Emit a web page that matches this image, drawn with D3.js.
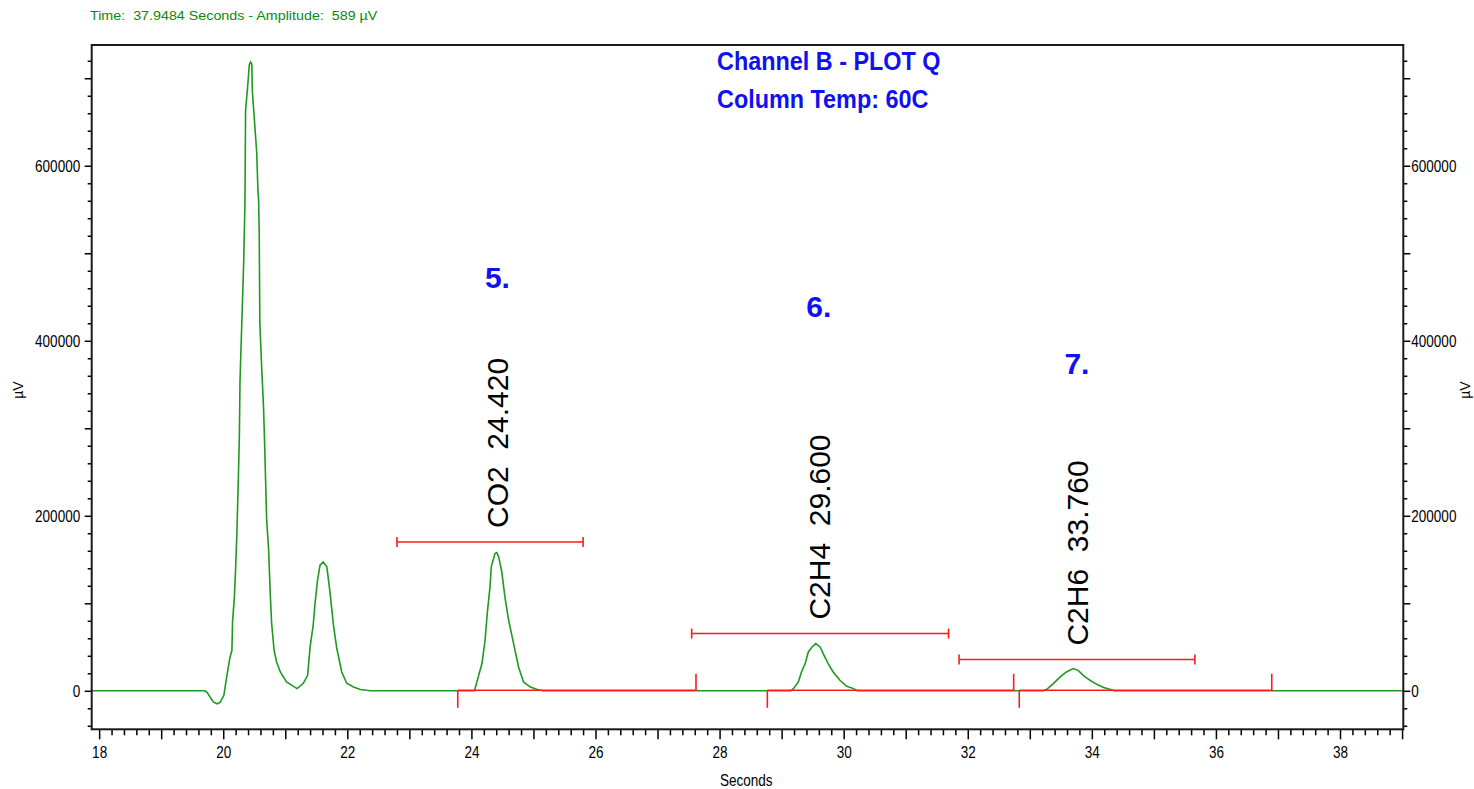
<!DOCTYPE html>
<html>
<head>
<meta charset="utf-8">
<script src="https://cdn.jsdelivr.net/npm/d3@7"></script>
<style>
  body { margin: 0; background: #fff; }
  svg { display: block; }
  text { font-family: "Liberation Sans", Arial, sans-serif; }
  .tick text { font-size: 16.5px; fill: #000; }
  .tick line { stroke: #000; stroke-width: 1.5; }
</style>
</head>
<body>
<svg id="chart" width="1474" height="789"></svg>
<script>
// chromatogram trace, [seconds, µV]
const trace = [
  [17.88, 0], [19.70, 0], [19.74, -1700], [19.79, -7400], [19.84, -12800], [19.90, -14900],
  [19.95, -13200], [20.01, -5100], [20.06, 17700], [20.11, 38700], [20.14, 46300], [20.15, 78700],
  [20.18, 107300], [20.20, 140100], [20.22, 180100], [20.24, 233000], [20.26, 290200], [20.27, 353100],
  [20.30, 421700], [20.33, 490300], [20.35, 557500], [20.36, 663000], [20.40, 696200], [20.42, 715300],
  [20.44, 718700], [20.46, 716400], [20.47, 684700], [20.50, 654700], [20.54, 614600], [20.56, 570400],
  [20.57, 560900], [20.58, 523200], [20.59, 420200], [20.62, 368800], [20.65, 323000], [20.67, 275000],
  [20.70, 195000], [20.73, 163000], [20.76, 107300], [20.78, 77200], [20.82, 46300], [20.86, 32900],
  [20.92, 21500], [21.02, 10100], [21.19, 2500], [21.29, 8600], [21.36, 17700], [21.40, 50100],
  [21.45, 74900], [21.48, 100100], [21.52, 126400], [21.56, 143500], [21.61, 147300], [21.67, 141600],
  [21.72, 113000], [21.78, 73000], [21.83, 48600], [21.91, 21500], [21.99, 8600], [22.10, 4300],
  [22.21, 1400], [22.37, 0],
  [24.05, 0], [24.11, 15800], [24.17, 31100], [24.22, 57700], [24.26, 92000], [24.30, 118700],
  [24.32, 141600], [24.38, 156900], [24.41, 158000], [24.44, 153000], [24.49, 135800], [24.54, 107300],
  [24.60, 80600], [24.68, 54000], [24.76, 27200], [24.84, 10100], [24.95, 4300], [25.05, 1700], [25.15, 0],
  [29.15, 0], [29.19, 2500], [29.27, 10100], [29.32, 21500], [29.38, 31100], [29.43, 44400],
  [29.49, 50100], [29.55, 54000], [29.62, 50100], [29.67, 42500], [29.75, 31100], [29.83, 21500],
  [29.94, 12000], [30.05, 5100], [30.16, 2500], [30.22, 0],
  [33.22, 0], [33.27, 1400], [33.38, 8200], [33.49, 15800], [33.59, 21500], [33.70, 25400],
  [33.78, 23400], [33.86, 17700], [33.97, 12000], [34.08, 7400], [34.19, 3700], [34.30, 1400], [34.36, 0],
  [39.02, 0]
];

// identified peaks
const peakNames = ["CO2", "C2H4", "C2H6"];
const peakTimes = [24.420, 29.600, 33.760];
const peakNumbers = ["5.", "6.", "7."];
const peakNumberAmp = [460300, 427000, 362000];

// integration baseline (start / end, seconds)
const baseStart = [23.78, 28.77, 32.83];
const baseEnd = [27.62, 32.74, 36.90];

// peak windows
const winStart = [22.80, 27.55, 31.86];
const winEnd = [25.80, 31.69, 35.66];
const winLevel = [170000, 65400, 35700];

const xDomain = [17.88, 39.02];
const yDomain = [-44000, 738000];

const svg = d3.select("#chart");
const plotL = 91.7, plotR = 1403.3, plotT = 45, plotB = 729.3;
const narrow = 0.82; // the plot software uses a narrow face

var x = d3.scaleLinear().domain(xDomain).range([plotL, plotR]);
var y = d3.scaleLinear().domain(yDomain).range([plotB, plotT]);

// status line
svg.append("text")
  .attr("transform", "translate(90,20) scale(1.1,1)")
  .style("font-size", "13px")
  .style("white-space", "pre")
  .attr("fill", "#0a8a0a")
  .text("Time:  37.9484 Seconds - Amplitude:  589 µV");

// bottom axis
var xTicks = d3.range(90, 196).map(function(i) { return i / 5; });
var xAxis = svg.append("g")
  .attr("transform", "translate(0," + plotB + ")")
  .call(d3.axisBottom(x).tickValues(xTicks).tickSizeOuter(0)
    .tickFormat(function(d) { return Math.round(d * 5) % 10 === 0 ? d3.format("d")(d) : ""; }));
xAxis.select(".domain").remove();
xAxis.selectAll(".tick line").attr("y2", function(d) { return Math.round(d * 5) % 5 === 0 ? 10 : 6; });
xAxis.selectAll(".tick text").attr("y", 29).attr("dy", 0)
  .attr("transform", "scale(" + narrow + ",1)");

// left / right axes
var yTicks = d3.range(-2, 37).map(function(i) { return i * 20000; });
var yFmt = function(d) { return d % 200000 === 0 ? String(d) : ""; };

var yLeft = svg.append("g")
  .attr("transform", "translate(" + plotL + ",0)")
  .call(d3.axisLeft(y).tickValues(yTicks).tickFormat(yFmt).tickSizeOuter(0));
yLeft.select(".domain").remove();
yLeft.selectAll(".tick line").attr("x2", function(d) { return d % 100000 === 0 ? -7 : -4; });
yLeft.selectAll(".tick text").attr("x", -11.5 / narrow).attr("dy", "0.36em")
  .attr("transform", "scale(" + narrow + ",1)");

var yRight = svg.append("g")
  .attr("transform", "translate(" + plotR + ",0)")
  .call(d3.axisRight(y).tickValues(yTicks).tickFormat(yFmt).tickSizeOuter(0));
yRight.select(".domain").remove();
yRight.selectAll(".tick line").attr("x2", function(d) { return d % 100000 === 0 ? 7 : 4; });
yRight.selectAll(".tick text").attr("x", 8 / narrow).attr("dy", "0.36em")
  .attr("transform", "scale(" + narrow + ",1)");

// axis titles
svg.append("text")
  .attr("transform", "translate(18,390) rotate(-90)")
  .attr("text-anchor", "middle").attr("dy", "0.35em")
  .style("font-size", "14px")
  .text("µV");
svg.append("text")
  .attr("transform", "translate(1465,390) rotate(-90)")
  .attr("text-anchor", "middle").attr("dy", "0.35em")
  .style("font-size", "14px")
  .text("µV");
svg.append("text")
  .attr("transform", "translate(720,786) scale(" + narrow + ",1)")
  .style("font-size", "16.5px")
  .text("Seconds");

// trace
var line = d3.line()
  .x(function(d) { return x(d[0]); })
  .y(function(d) { return y(d[1]); });

svg.append("path")
  .datum(trace)
  .attr("fill", "none")
  .attr("stroke", "#1f9a1f")
  .attr("stroke-width", 1.6)
  .attr("d", line);

// baselines with start / end markers
var red = "#ff1a1a";
var base = svg.append("g").attr("stroke", red).attr("stroke-width", 1.6);
baseStart.forEach(function(s, i) {
  var e = baseEnd[i];
  base.append("line")
    .attr("x1", x(s)).attr("x2", x(e))
    .attr("y1", y(0) - 0.5).attr("y2", y(0) - 0.5);
  base.append("line")
    .attr("x1", x(s)).attr("x2", x(s))
    .attr("y1", y(0)).attr("y2", y(0) + 17);
  base.append("line")
    .attr("x1", x(e)).attr("x2", x(e))
    .attr("y1", y(0)).attr("y2", y(0) - 17);
});

// peak windows
var win = svg.append("g").attr("stroke", red).attr("stroke-width", 1.6);
winStart.forEach(function(s, i) {
  var yy = y(winLevel[i]);
  win.append("line").attr("x1", x(s)).attr("x2", x(winEnd[i])).attr("y1", yy).attr("y2", yy);
  win.append("line").attr("x1", x(s)).attr("x2", x(s)).attr("y1", yy - 5).attr("y2", yy + 5);
  win.append("line").attr("x1", x(winEnd[i])).attr("x2", x(winEnd[i])).attr("y1", yy - 5).attr("y2", yy + 5);
});

// peak labels
peakNames.forEach(function(name, i) {
  svg.append("text")
    .attr("transform", "translate(" + x(peakTimes[i]) + "," + (y(winLevel[i]) - 14) + ") rotate(-90)")
    .attr("dy", "0.36em")
    .style("font-size", "30px")
    .style("white-space", "pre")
    .attr("fill", "#000")
    .text(name + "  " + d3.format(".3f")(peakTimes[i]));

  svg.append("text")
    .attr("x", x(peakTimes[i]))
    .attr("y", y(peakNumberAmp[i]))
    .attr("text-anchor", "middle")
    .style("font-weight", "bold")
    .style("font-size", "30px")
    .attr("fill", "#1010f0")
    .text(peakNumbers[i]);
});

// title
var title = svg.append("g")
  .attr("transform", "translate(717,0) scale(0.9,1)")
  .style("font-weight", "bold")
  .style("font-size", "26px")
  .attr("fill", "#1010f0");
title.append("text").attr("y", 70).text("Channel B - PLOT Q");
title.append("text").attr("y", 108).text("Column Temp: 60C");

// frame
svg.append("rect")
  .attr("x", plotL).attr("y", plotT)
  .attr("width", plotR - plotL).attr("height", plotB - plotT)
  .attr("fill", "none")
  .attr("stroke", "#1a1a1a")
  .attr("stroke-width", 2);
</script>
</body>
</html>
